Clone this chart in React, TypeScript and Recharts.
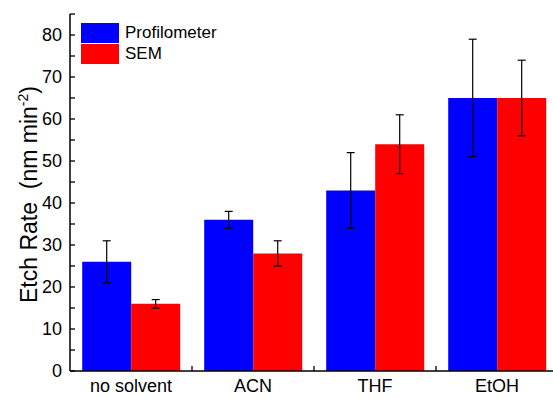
import React from 'react';
import { BarChart, Bar, XAxis, YAxis, ErrorBar, Legend } from 'recharts';

const categories = ['no solvent', 'ACN', 'THF', 'EtOH'];
const profilometer = [26, 36, 43, 65];
const profilometerErr = [5, 2, 9, 14];
const sem = [16, 28, 54, 65];
const semErr = [1, 3, 7, 9];
const yTicks = [0, 5, 10, 15, 20, 25, 30, 35, 40, 45, 50, 55, 60, 65, 70, 75, 80, 85];
const yMajorTicks = [0, 10, 20, 30, 40, 50, 60, 70, 80];

const data = categories.map((c, i) => ({
  name: c,
  prof: profilometer[i],
  profErr: profilometerErr[i],
  sem: sem[i],
  semErr: semErr[i],
}));

const FONT = '"Liberation Sans", Arial, Helvetica, sans-serif';

const LeftTick = (props: any) => {
  const { x, y, payload } = props;
  const v = payload.value;
  const major = v % 10 === 0;
  return (
    <g>
      <line x1={x} x2={x + 5} y1={y} y2={y} stroke="#000" strokeWidth={1.3} />
      {major && (
        <text x={x - 8} y={y} dy={6} textAnchor="end" fontSize={18} fontFamily={FONT} fill="#000">
          {v}
        </text>
      )}
    </g>
  );
};

const RightTick = (props: any) => {
  const { x, y } = props;
  return <line x1={x} x2={x - 8} y1={y} y2={y} stroke="#000" strokeWidth={1.3} />;
};

const BottomTick = (props: any) => {
  const { x, y, payload, index } = props;
  const off = payload.offset || 0;
  return (
    <g>
      {index < categories.length - 1 && (
        <line x1={x + off} x2={x + off} y1={y} y2={y - 5} stroke="#000" strokeWidth={1.3} />
      )}
      <text x={x} y={y + 21} textAnchor="middle" fontSize={18} fontFamily={FONT} fill="#000">
        {payload.value}
      </text>
    </g>
  );
};

const TopTick = (props: any) => {
  const { x, y, payload, index } = props;
  const off = payload.offset || 0;
  return (
    <g>
      <line x1={x} x2={x} y1={y} y2={y + 6} stroke="#000" strokeWidth={1.3} />
      {index < categories.length - 1 && (
        <line x1={x + off} x2={x + off} y1={y} y2={y + 4} stroke="#000" strokeWidth={1.3} />
      )}
    </g>
  );
};

const YLabel = (props: any) => {
  const vb = props.viewBox || { x: 0, y: 14, width: 70, height: 357 };
  const cx = vb.x + 37;
  const cy = vb.y + vb.height / 2 + 2;
  return (
    <text
      x={cx}
      y={cy}
      transform={`rotate(-90, ${cx}, ${cy})`}
      textAnchor="middle"
      fontSize={23}
      fontFamily={FONT}
      fill="#000"
      style={{ whiteSpace: 'pre' }}
    >
      <tspan>{'Etch Rate  (nm min'}</tspan>
      <tspan dy={-9} fontSize={14}>-2</tspan>
      <tspan dy={9}>)</tspan>
    </text>
  );
};

const renderLegend = (props: any) => {
  const payload = props.payload || [];
  return (
    <div style={{ fontFamily: FONT, fontSize: 17, color: '#000' }}>
      {payload.map((e: any) => (
        <div key={e.value} style={{ display: 'flex', alignItems: 'center', height: 21 }}>
          <div style={{ width: 38, height: 20, background: e.color, marginRight: 6 }} />
          <span style={{ lineHeight: '20px' }}>{e.value}</span>
        </div>
      ))}
    </div>
  );
};

export default function App() {
  return (
    <div style={{ position: 'absolute', left: 0, top: 0, width: 553, height: 398, overflow: 'hidden', background: '#fff' }}>
      <BarChart
        width={558}
        height={398}
        data={data}
        margin={{ top: 14, right: 0, left: 0, bottom: 0 }}
        barCategoryGap="10%"
        barGap={0}
      >
        <XAxis
          dataKey="name"
          height={27}
          axisLine={{ stroke: '#000', strokeWidth: 1.5 }}
          tickLine={false}
          tickSize={0}
          tickMargin={0}
          tick={<BottomTick />}
          interval={0}
        />
        <XAxis
          xAxisId="top"
          dataKey="name"
          orientation="top"
          height={0}
          axisLine={{ stroke: '#000', strokeWidth: 1.5 }}
          tickLine={false}
          tickSize={0}
          tickMargin={0}
          tick={<TopTick />}
          interval={0}
        />
        <YAxis
          width={70}
          domain={[0, 85]}
          ticks={yTicks}
          interval={0}
          axisLine={{ stroke: '#000', strokeWidth: 1.5 }}
          tickLine={false}
          tickSize={0}
          tickMargin={0}
          tick={<LeftTick />}
          label={<YLabel />}
        />
        <YAxis
          yAxisId="right"
          orientation="right"
          width={0}
          domain={[0, 85]}
          ticks={yMajorTicks}
          interval={0}
          axisLine={{ stroke: '#000', strokeWidth: 1.5 }}
          tickLine={false}
          tickSize={0}
          tickMargin={0}
          tick={<RightTick />}
        />
        <Legend
          layout="vertical"
          align="center"
          verticalAlign="middle"
          content={renderLegend}
          wrapperStyle={{ left: 81, top: 22, width: 200 }}
        />
        <Bar dataKey="prof" name="Profilometer" fill="#0000FF" isAnimationActive={false}>
          <ErrorBar dataKey="profErr" width={4} stroke="#000" strokeWidth={1.2} isAnimationActive={false} />
        </Bar>
        <Bar dataKey="sem" name="SEM" fill="#FF0000" isAnimationActive={false}>
          <ErrorBar dataKey="semErr" width={4} stroke="#000" strokeWidth={1.2} isAnimationActive={false} />
        </Bar>
      </BarChart>
    </div>
  );
}
